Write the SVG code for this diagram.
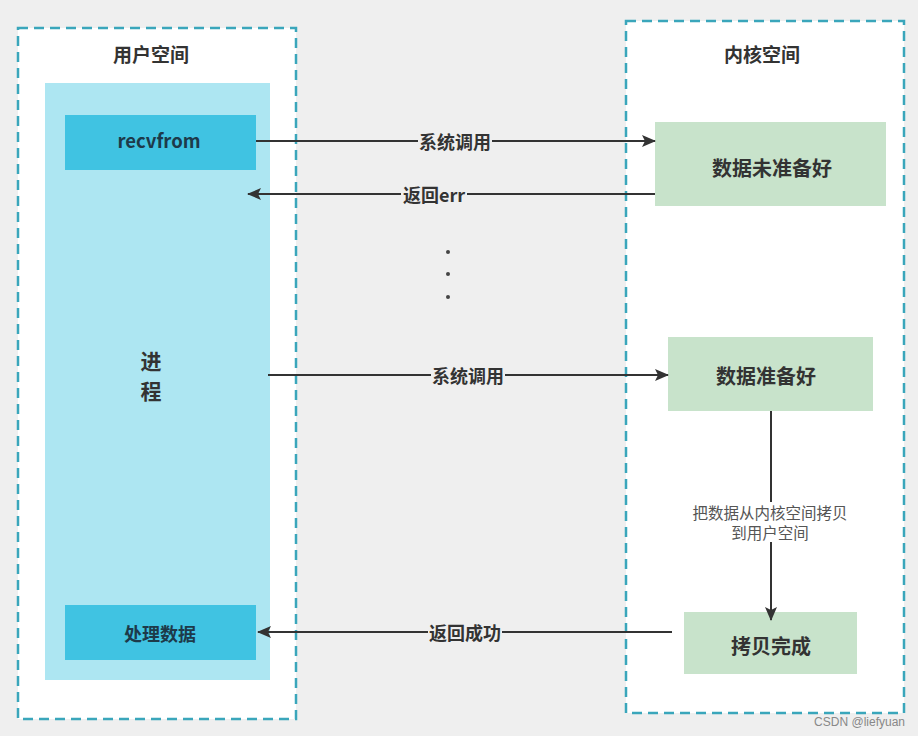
<svg xmlns="http://www.w3.org/2000/svg" width="918" height="736" viewBox="0 0 918 736">
<defs>
<marker id="ah" markerWidth="14" markerHeight="12" refX="13" refY="6" orient="auto" markerUnits="userSpaceOnUse">
<path d="M0,0 L14,6 L0,12 L3,6 Z" fill="#333"/>
</marker>
<style>
.zone{fill:#fff;stroke:#3aa6bb;stroke-width:2.5;stroke-dasharray:10 6}
.t{font-family:"Noto Sans CJK SC","Noto Sans",sans-serif;font-weight:bold;fill:#333;text-anchor:middle;dominant-baseline:central}
.blue{fill:#40c3e2}
.green{fill:#c8e3cb}
.line{stroke:#333;stroke-width:2;fill:none}
.lbl{font-family:"Noto Sans CJK SC","Noto Sans",sans-serif;font-weight:bold;font-size:18px;fill:#333;text-anchor:middle;dominant-baseline:central}
.bg{fill:#efefef}
.sub{font-family:"Noto Sans CJK SC","Noto Sans",sans-serif;font-size:15.5px;fill:#555;text-anchor:middle;dominant-baseline:central}
</style>
</defs>
<rect width="918" height="736" fill="#efefef"/>
<g id="user-space">
<rect class="zone" x="18" y="28" width="278" height="691"/>
<text class="t" x="151" y="53" font-size="19">用户空间</text>
</g>
<g id="kernel-space">
<rect class="zone" x="626" y="21" width="278" height="692"/>
<text class="t" x="762" y="53" font-size="19">内核空间</text>
</g>
<g id="process">
<rect x="45" y="83" width="225" height="597" fill="#ade6f2"/>
<text class="t" x="151" y="360" font-size="21">进</text>
<text class="t" x="151" y="390" font-size="21">程</text>
</g>
<g id="recvfrom">
<rect class="blue" x="65" y="115" width="191" height="55"/>
<text class="t" x="159" y="140" font-size="18.5" style="fill:#1d3a4a">recvfrom</text>
</g>
<g id="handle-data">
<rect class="blue" x="65" y="605" width="191" height="55"/>
<text class="t" x="160" y="633" font-size="18" style="fill:#1d3a4a">处理数据</text>
</g>
<g id="data-not-ready">
<rect class="green" x="655" y="122" width="231" height="84"/>
<text class="t" x="772" y="167" font-size="20">数据未准备好</text>
</g>
<g id="data-ready">
<rect class="green" x="668" y="337" width="205" height="74"/>
<text class="t" x="766" y="375" font-size="20">数据准备好</text>
</g>
<g id="copy-done">
<rect class="green" x="684" y="612" width="173" height="62"/>
<text class="t" x="771" y="645" font-size="20">拷贝完成</text>
</g>
<g id="connectors">
<line class="line" x1="256" y1="141" x2="655" y2="141" marker-end="url(#ah)"/>
<rect class="bg" x="418" y="131" width="74" height="20"/>
<text class="lbl" x="455" y="141">系统调用</text>
<line class="line" x1="655" y1="194" x2="248" y2="194" marker-end="url(#ah)"/>
<rect class="bg" x="401" y="184" width="66" height="20"/>
<text class="lbl" x="434" y="194">返回err</text>
<circle cx="448" cy="252" r="2" fill="#444"/>
<circle cx="448" cy="274" r="2" fill="#444"/>
<circle cx="448" cy="297" r="2" fill="#444"/>
<line class="line" x1="268" y1="375" x2="668" y2="375" marker-end="url(#ah)"/>
<rect class="bg" x="431" y="365" width="74" height="20"/>
<text class="lbl" x="468" y="375">系统调用</text>
<line class="line" x1="771" y1="411" x2="771" y2="620" marker-end="url(#ah)"/>
<rect x="688" y="502" width="166" height="40" fill="#fff"/>
<text class="sub" x="770" y="512">把数据从内核空间拷贝</text>
<text class="sub" x="770" y="532">到用户空间</text>
<line class="line" x1="672" y1="632" x2="258" y2="632" marker-end="url(#ah)"/>
<rect class="bg" x="428" y="622" width="74" height="20"/>
<text class="lbl" x="465" y="632">返回成功</text>
</g>
<text x="905" y="722" font-family="Liberation Sans, sans-serif" font-size="12" fill="#888" text-anchor="end" dominant-baseline="central">CSDN @liefyuan</text>
</svg>
